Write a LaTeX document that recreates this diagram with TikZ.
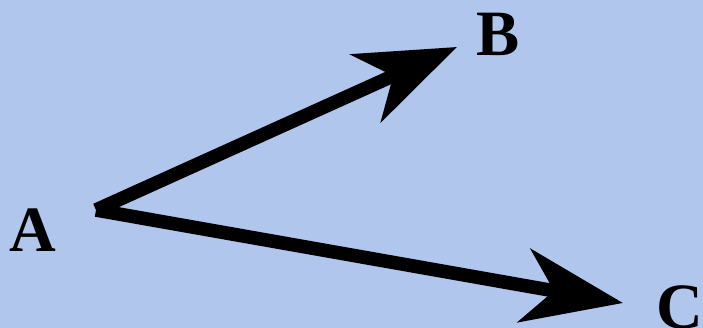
\documentclass[tikz,border=0pt]{standalone}
\usepackage{fontspec}
\setmainfont{Liberation Serif}
\usetikzlibrary{arrows.meta}
\definecolor{bgblue}{RGB}{176,198,236}
\begin{document}
\begin{tikzpicture}[line join=miter,>={Stealth[length=2.5cm,width=1.85cm,inset=0.75cm]}]
			\tikzset{every node/.style={font=\fontsize{46}{50}\selectfont\bfseries},
				vec/.style={->,line width=0.34cm,line cap=butt}}
			\useasboundingbox (0,0) rectangle (17.575,8.2);
			\fill[bgblue] (0,0) rectangle (17.575,8.2);
			\coordinate (o) at (2.4,2.95);
			\coordinate (b) at (11.425,7.025);
			\coordinate (c) at (15.575,0.625);
			\node (A) at (0.83,2.45) {A};
			\node (B) at (12.45,7.35) {B};
			\node (C) at (17.0,0.52) {C};
			\draw[vec] (o)--(b);
			\draw[vec] (o)--(c);
		\end{tikzpicture}
\end{document}
